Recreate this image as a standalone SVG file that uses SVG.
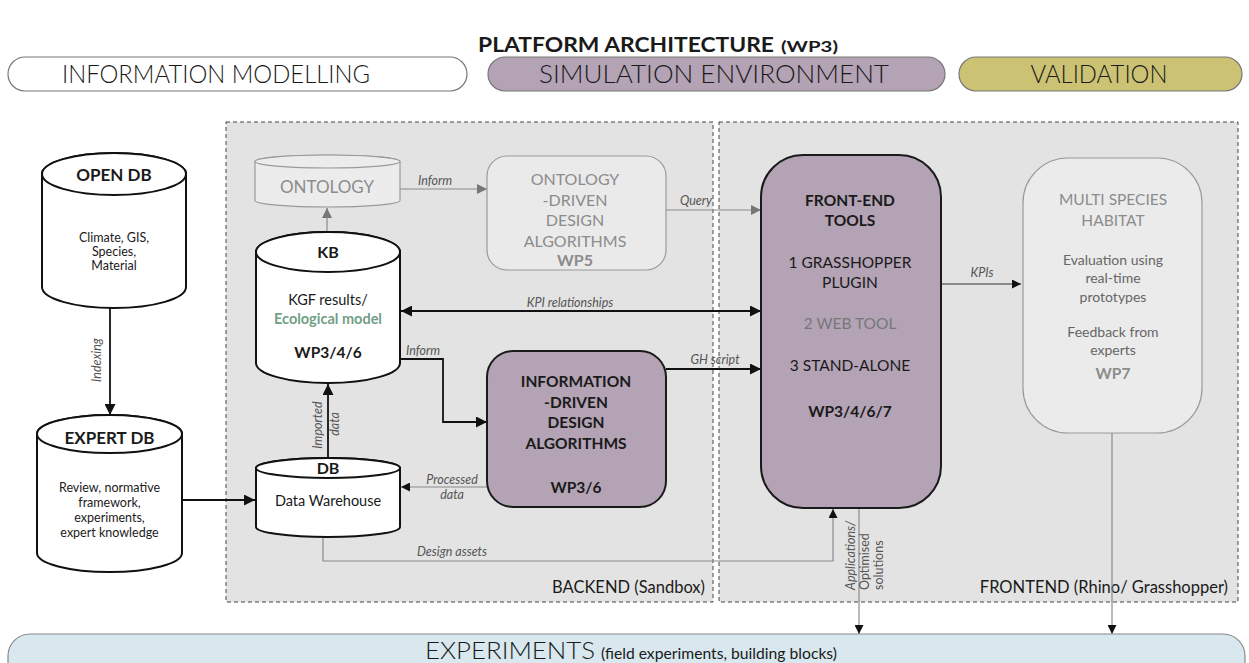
<svg xmlns="http://www.w3.org/2000/svg" width="1249" height="663" viewBox="0 0 1249 663">
<style>
text{font-family:Lato,"Noto Sans","Liberation Sans",sans-serif;fill:#1a1a1a}
.c{text-anchor:middle}
.b{font-weight:bold}
.lt{font-weight:300}
.lbl{font-style:italic;font-size:12.5px;fill:#555}
.gt{fill:#8c8c8c}
.zone{fill:#e3e3e3;stroke:#444;stroke-width:1;stroke-dasharray:4 3}
.cyl{fill:#fff;stroke:#111;stroke-width:2}
.cylg{fill:#ececec;stroke:#9a9a9a;stroke-width:1.2}
.blk{fill:none;stroke:#111;stroke-width:1.8}
.gry{fill:none;stroke:#8a8a8a;stroke-width:1.2}
.thin{fill:none;stroke:#333;stroke-width:1.2}
</style>
<defs>
<marker id="ab" viewBox="0 0 10 10" refX="10" refY="5" markerWidth="11" markerHeight="11" markerUnits="userSpaceOnUse" orient="auto-start-reverse"><path d="M0,0 L10,5 L0,10 z" fill="#111"/></marker>
<marker id="as" viewBox="0 0 10 10" refX="10" refY="5" markerWidth="9" markerHeight="9" markerUnits="userSpaceOnUse" orient="auto-start-reverse"><path d="M0,0 L10,5 L0,10 z" fill="#111"/></marker>
<marker id="ag" viewBox="0 0 10 10" refX="10" refY="5" markerWidth="10" markerHeight="10" markerUnits="userSpaceOnUse" orient="auto-start-reverse"><path d="M0,0 L10,5 L0,10 z" fill="#777"/></marker>
</defs>
<rect width="1249" height="663" fill="#fff"/>

<g id="header">
<text x="478" y="52" class="b" font-size="21" textLength="296" lengthAdjust="spacingAndGlyphs">PLATFORM ARCHITECTURE</text>
<text x="781" y="52" class="b" font-size="16" textLength="57" lengthAdjust="spacingAndGlyphs">(WP3)</text>
</g>
<g id="pill-information-modelling">
<rect x="8" y="57" width="459" height="34" rx="17" fill="#fff" stroke="#777" stroke-width="1.2"/>
<text x="216" y="83" class="c lt" font-size="25" textLength="308" lengthAdjust="spacingAndGlyphs">INFORMATION MODELLING</text>
</g>
<g id="pill-simulation">
<rect x="488" y="57" width="457" height="34" rx="17" fill="#b3a3b5" stroke="#777" stroke-width="1.2"/>
<text x="714" y="83" class="c lt" font-size="25" textLength="350" lengthAdjust="spacingAndGlyphs">SIMULATION ENVIRONMENT</text>
</g>
<g id="pill-validation">
<rect x="959" y="57" width="283" height="34" rx="17" fill="#cbc273" stroke="#777" stroke-width="1.2"/>
<text x="1099" y="83" class="c lt" font-size="25" textLength="137" lengthAdjust="spacingAndGlyphs">VALIDATION</text>
</g>

<g id="backend-zone">
<rect x="226" y="122" width="487" height="480" class="zone"/>
<text x="705" y="593" font-size="16.5" text-anchor="end">BACKEND (Sandbox)</text>
</g>
<g id="frontend-zone">
<rect x="719" y="122" width="519" height="480" class="zone"/>
<text x="1228" y="593" font-size="16.5" text-anchor="end">FRONTEND (Rhino/ Grasshopper)</text>
</g>

<g id="connectors">
<line x1="110" y1="308" x2="110" y2="415" class="blk" marker-end="url(#ab)"/>
<line x1="182" y1="500" x2="255" y2="500" class="blk" marker-end="url(#ab)"/>
<line x1="328" y1="458" x2="328" y2="384" class="blk" marker-end="url(#ab)"/>
<line x1="327" y1="232" x2="327" y2="208" class="gry" marker-end="url(#ag)"/>
<line x1="400" y1="189" x2="487" y2="189" class="gry" marker-end="url(#ag)"/>
<line x1="666" y1="210" x2="761" y2="210" class="gry" marker-end="url(#ag)"/>
<line x1="401" y1="311" x2="761" y2="311" class="blk" marker-start="url(#ab)" marker-end="url(#ab)"/>
<polyline points="400,359 443,359 443,422 487,422" class="blk" marker-end="url(#ab)"/>
<line x1="487" y1="487" x2="401" y2="487" class="gry" marker-end="url(#as)"/>
<line x1="666" y1="369" x2="761" y2="369" class="blk" marker-end="url(#ab)"/>
<polyline points="323,537 323,561 833,561 833,509" class="gry" marker-end="url(#as)"/>
<line x1="941" y1="284" x2="1021" y2="284" class="thin" marker-end="url(#as)"/>
<line x1="859" y1="432" x2="859" y2="634" class="gry" marker-end="url(#as)"/>
<line x1="1112" y1="433" x2="1112" y2="634" class="gry" marker-end="url(#as)"/>
<text class="lbl" transform="translate(101,360) rotate(-90)" text-anchor="middle">Indexing</text>
<text class="lbl" transform="translate(322,425) rotate(-90)" text-anchor="middle">Imported</text>
<text class="lbl" transform="translate(339,424) rotate(-90)" text-anchor="middle">data</text>
<text class="lbl" x="435" y="185" text-anchor="middle">Inform</text>
<text class="lbl" x="696" y="205" text-anchor="middle">Query</text>
<text class="lbl" x="570" y="307" text-anchor="middle">KPI relationships</text>
<text class="lbl" x="423" y="355" text-anchor="middle">Inform</text>
<text class="lbl" x="452" y="484" text-anchor="middle">Processed</text>
<text class="lbl" x="452" y="499" text-anchor="middle">data</text>
<text class="lbl" x="715" y="364" text-anchor="middle">GH script</text>
<text class="lbl" x="452" y="556" text-anchor="middle">Design assets</text>
<text class="lbl" x="982" y="277" text-anchor="middle">KPIs</text>
<text class="lbl" transform="translate(855,590) rotate(-90)">Applications/</text>
<text class="lbl" transform="translate(869,590) rotate(-90)" style="font-style:normal">Optimised</text>
<text class="lbl" transform="translate(883,590) rotate(-90)" style="font-style:normal">solutions</text>
</g>

<g id="open-db">
<path d="M42,174 A72,21 0 0 1 186,174 L186,287 A72,21 0 0 1 42,287 Z" class="cyl"/>
<ellipse cx="114" cy="174" rx="72" ry="21" class="cyl"/>
<text x="114" y="181" class="c b" font-size="17">OPEN DB</text>
<text x="114" y="242" class="c" font-size="12.5" fill="#333">Climate, GIS,</text>
<text x="114" y="256" class="c" font-size="12.5" fill="#333">Species,</text>
<text x="114" y="270" class="c" font-size="12.5" fill="#333">Material</text>
</g>
<g id="expert-db">
<path d="M37,434 A72.5,19 0 0 1 182,434 L182,553 A72.5,19 0 0 1 37,553 Z" class="cyl"/>
<ellipse cx="109.5" cy="434" rx="72.5" ry="19" class="cyl"/>
<text x="109.5" y="444" class="c b" font-size="17">EXPERT DB</text>
<text x="109.5" y="492" class="c" font-size="12.5" fill="#333">Review, normative</text>
<text x="109.5" y="507" class="c" font-size="12.5" fill="#333">framework,</text>
<text x="109.5" y="522" class="c" font-size="12.5" fill="#333">experiments,</text>
<text x="109.5" y="537" class="c" font-size="12.5" fill="#333">expert knowledge</text>
</g>
<g id="ontology">
<path d="M255,161.5 A72.5,6.5 0 0 1 400,161.5 L400,200.5 A72.5,6.5 0 0 1 255,200.5 Z" class="cylg"/>
<ellipse cx="327.5" cy="161.5" rx="72.5" ry="6.5" class="cylg"/>
<text x="327" y="193" class="c gt" font-size="17">ONTOLOGY</text>
</g>
<g id="kb">
<path d="M256,252 A72,20 0 0 1 400,252 L400,363 A72,20 0 0 1 256,363 Z" class="cyl" stroke-width="2.4"/>
<ellipse cx="328" cy="252" rx="72" ry="20" class="cyl" stroke-width="2.4"/>
<text x="328" y="258" class="c b" font-size="16">KB</text>
<text x="328" y="305" class="c" font-size="14.5">KGF results/</text>
<text x="328" y="324" class="c b" font-size="14.5" style="fill:#72a086">Ecological model</text>
<text x="328" y="358" class="c b" font-size="15.5">WP3/4/6</text>
</g>
<g id="db">
<path d="M256,468 A72,10 0 0 1 400,468 L400,527 A72,10 0 0 1 256,527 Z" class="cyl"/>
<ellipse cx="328" cy="468" rx="72" ry="10" class="cyl"/>
<text x="328" y="474" class="c b" font-size="16">DB</text>
<text x="328" y="506" class="c" font-size="14.5">Data Warehouse</text>
</g>
<g id="ontology-driven">
<rect x="487" y="156" width="179" height="114" rx="20" fill="#eaeaea" stroke="#9a9a9a" stroke-width="1.2"/>
<text x="575" y="185" class="c gt" font-size="16">ONTOLOGY</text>
<text x="575" y="206" class="c gt" font-size="16">-DRIVEN</text>
<text x="575" y="226" class="c gt" font-size="16">DESIGN</text>
<text x="575" y="247" class="c gt" font-size="16">ALGORITHMS</text>
<text x="575" y="266" class="c gt b" font-size="16">WP5</text>
</g>
<g id="information-driven">
<rect x="487" y="351" width="179" height="156" rx="26" fill="#b3a3b5" stroke="#1a1a1a" stroke-width="2"/>
<text x="576" y="387" class="c b" font-size="15.5">INFORMATION</text>
<text x="576" y="408" class="c b" font-size="15.5">-DRIVEN</text>
<text x="576" y="428" class="c b" font-size="15.5">DESIGN</text>
<text x="576" y="449" class="c b" font-size="15.5">ALGORITHMS</text>
<text x="576" y="493" class="c b" font-size="15.5">WP3/6</text>
</g>
<g id="front-end-tools">
<rect x="761" y="155" width="180" height="353" rx="42" fill="#b3a3b5" stroke="#1a1a1a" stroke-width="2"/>
<text x="850" y="206" class="c b" font-size="15.5">FRONT-END</text>
<text x="850" y="226" class="c b" font-size="15.5">TOOLS</text>
<text x="850" y="268" class="c" font-size="15.5">1 GRASSHOPPER</text>
<text x="850" y="288" class="c" font-size="15.5">PLUGIN</text>
<text x="850" y="329" class="c" font-size="15.5" style="fill:#777">2 WEB TOOL</text>
<text x="850" y="371" class="c" font-size="15.5">3 STAND-ALONE</text>
<text x="850" y="417" class="c b" font-size="15.5">WP3/4/6/7</text>
</g>
<g id="multi-species-habitat">
<rect x="1023" y="158" width="179" height="275" rx="45" fill="#ebebeb" stroke="#9a9a9a" stroke-width="1.2"/>
<text x="1113" y="205" class="c gt" font-size="15.5">MULTI SPECIES</text>
<text x="1113" y="226" class="c gt" font-size="15.5">HABITAT</text>
<text x="1113" y="265" class="c" font-size="14" style="fill:#666">Evaluation using</text>
<text x="1113" y="283" class="c" font-size="14" style="fill:#666">real-time</text>
<text x="1113" y="302" class="c" font-size="14" style="fill:#666">prototypes</text>
<text x="1113" y="337" class="c" font-size="14" style="fill:#666">Feedback from</text>
<text x="1113" y="355" class="c" font-size="14" style="fill:#666">experts</text>
<text x="1113" y="379" class="c gt b" font-size="15.5">WP7</text>
</g>
<g id="experiments">
<rect x="8" y="634" width="1237" height="50" rx="22" fill="#d8e8ee" stroke="#888" stroke-width="1.2"/>
<text x="425" y="659" font-size="24" class="lt" textLength="170" lengthAdjust="spacingAndGlyphs">EXPERIMENTS</text>
<text x="601" y="659" font-size="15" textLength="236" lengthAdjust="spacingAndGlyphs">(field experiments, building blocks)</text>
</g>
</svg>
